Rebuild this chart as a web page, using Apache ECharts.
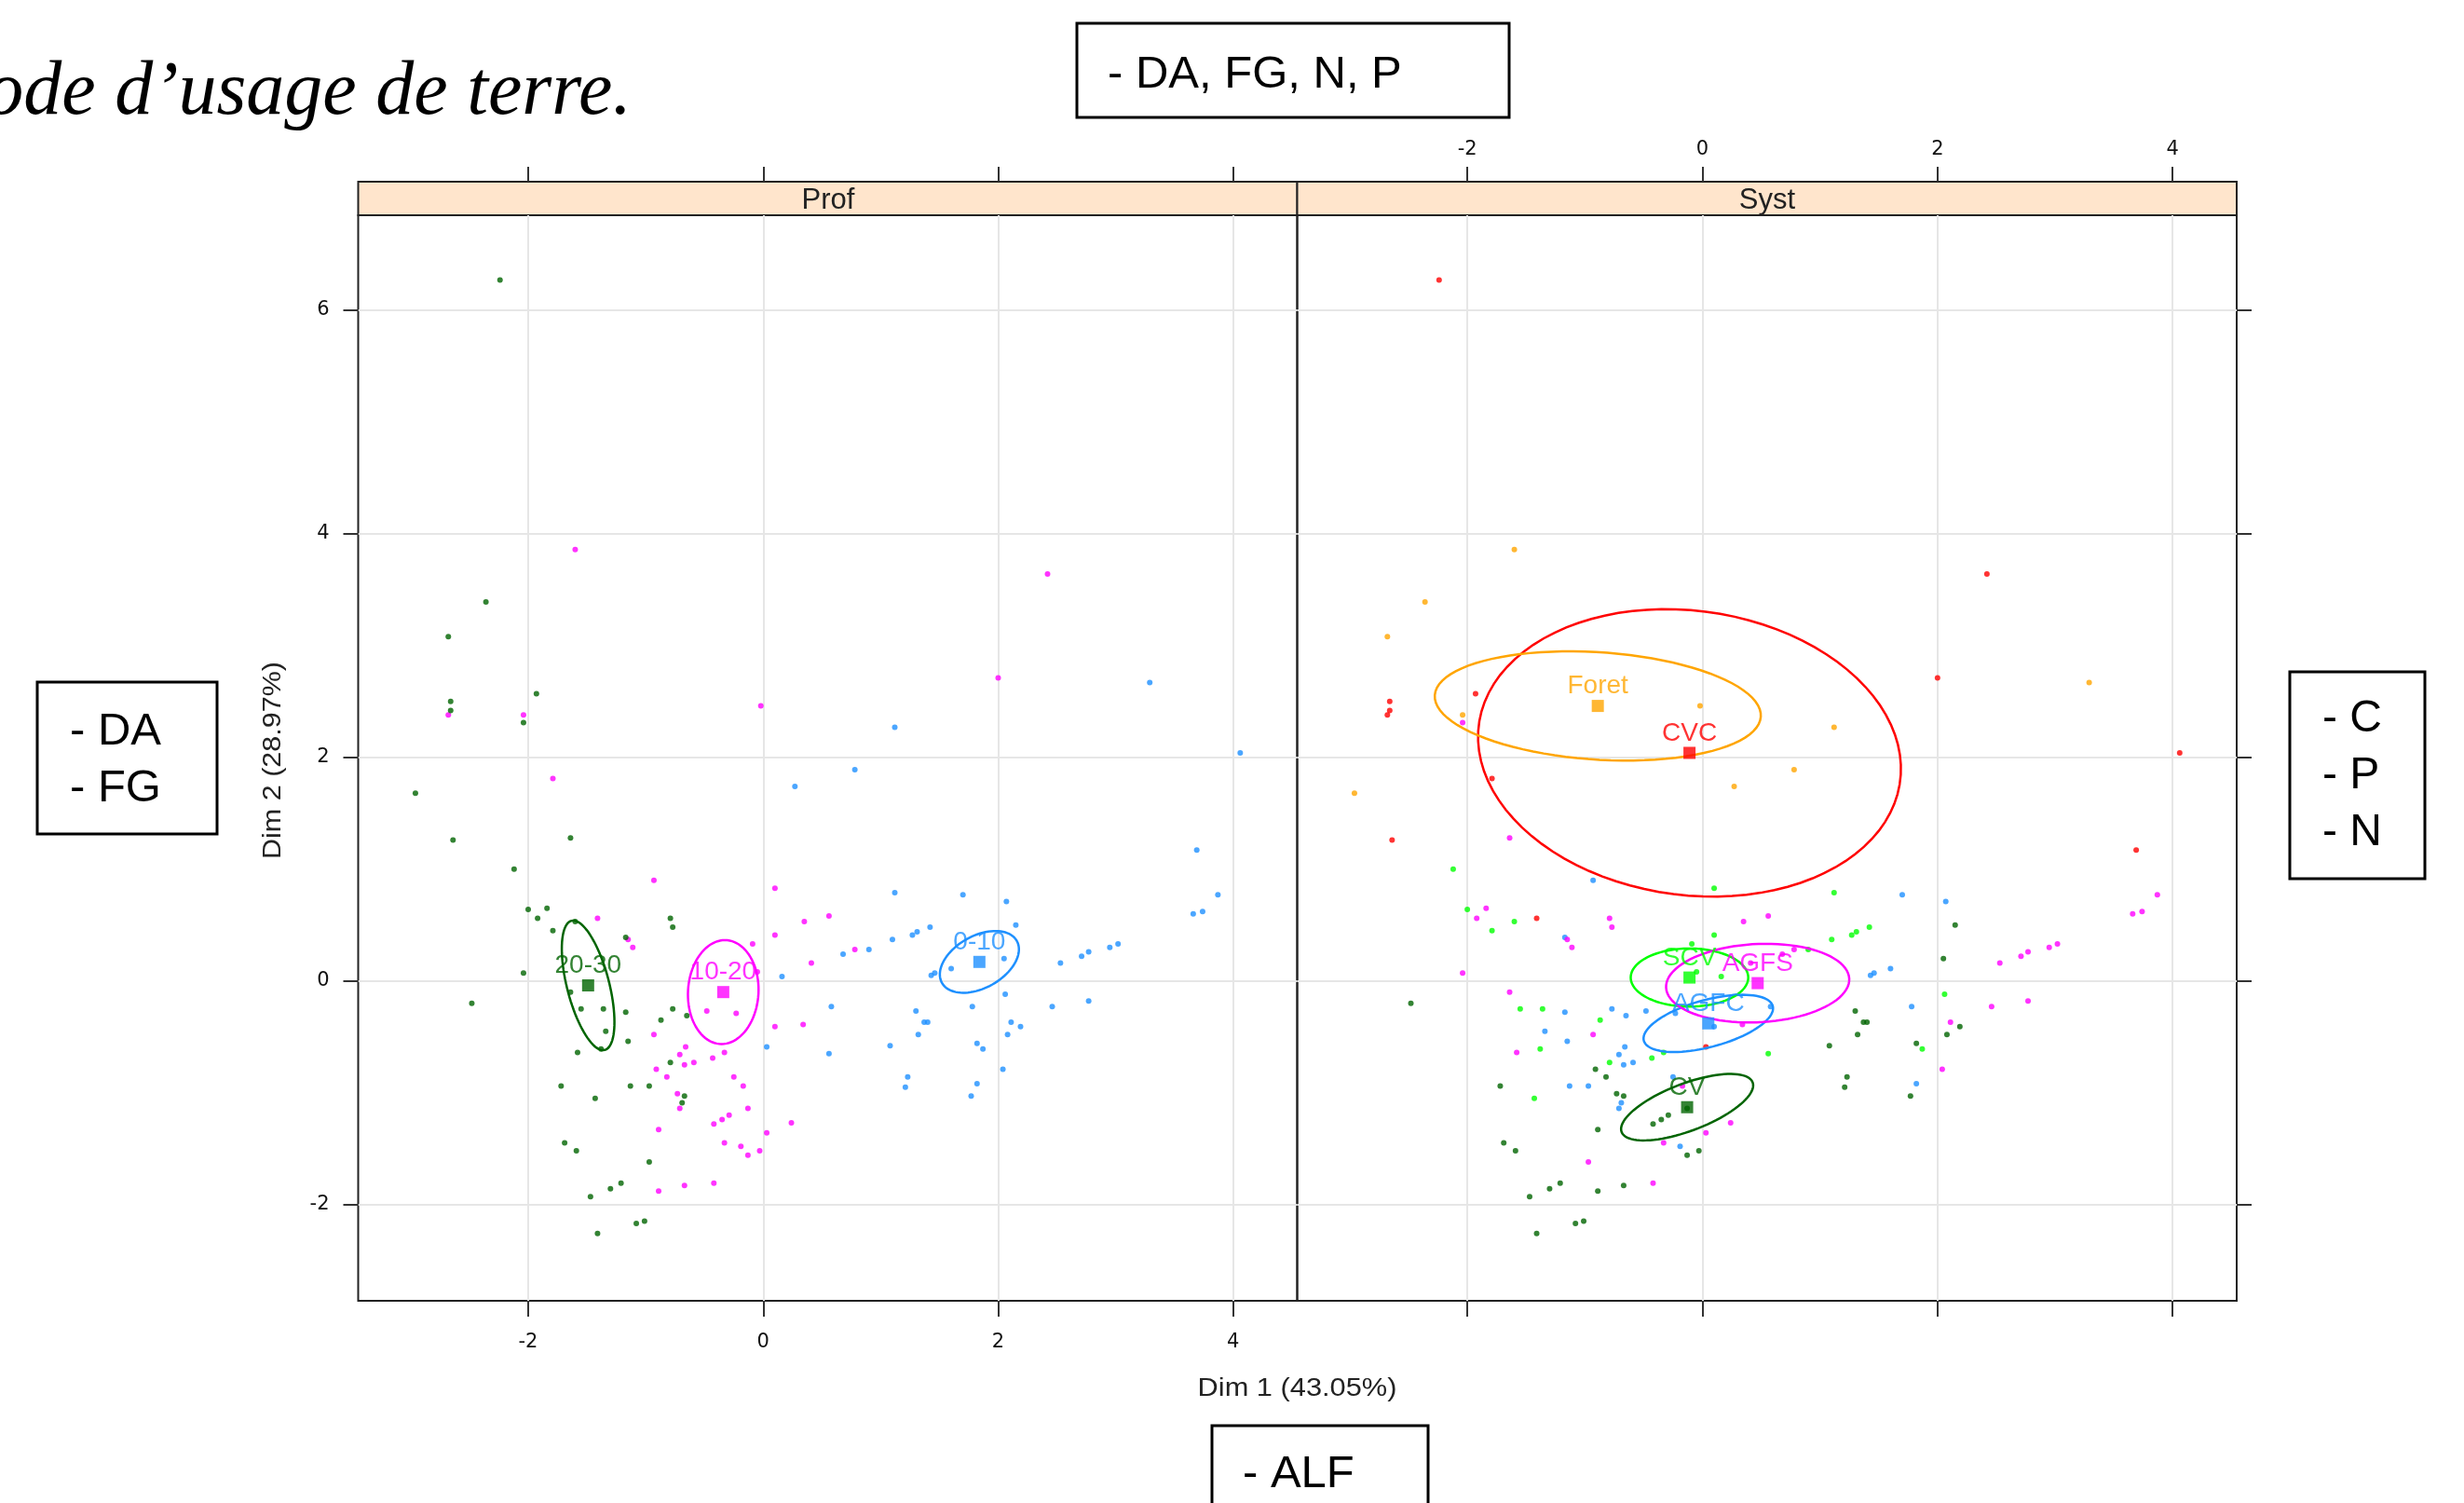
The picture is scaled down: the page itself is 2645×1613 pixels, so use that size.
<!DOCTYPE html>
<html>
<head>
<meta charset="utf-8">
<script src="https://cdn.jsdelivr.net/npm/echarts@6/dist/echarts.min.js"></script>
<style>
  html, body { margin: 0; padding: 0; background: #fff; }
  #chart { width: 2645px; height: 1613px; }
</style>
</head>
<body>
<div id="chart"></div>
<script>
const profLevels = ['0-10', '10-20', '20-30'];
const systLevels = ['CV', 'AGFC', 'SCV', 'AGFS', 'CVC', 'Foret'];
const xTicks = [-2, 0, 2, 4];
const yTicks = [-2, 0, 2, 4, 6];

// individuals, one list per depth : [Dim 1, Dim 2, systeme]
const prof0_10 = [
  [3.29, 2.67, 'Foret'], [1.12, 2.27, 'Foret'], [4.06, 2.04, 'CVC'], [0.78, 1.89, 'Foret'],
  [0.27, 1.74, 'Foret'], [3.69, 1.17, 'CVC'], [1.12, 0.79, 'SCV'], [1.70, 0.77, 'AGFC'],
  [2.07, 0.71, 'AGFC'], [3.87, 0.77, 'AGFS'], [3.66, 0.60, 'AGFS'], [3.74, 0.62, 'AGFS'],
  [2.15, 0.50, 'CV'], [1.42, 0.48, 'SCV'], [1.31, 0.44, 'SCV'], [1.27, 0.41, 'SCV'],
  [1.10, 0.37, 'SCV'], [0.90, 0.28, 'SCV'], [0.68, 0.24, 'AGFS'], [1.60, 0.11, 'AGFC'],
  [1.43, 0.05, 'AGFC'], [1.46, 0.07, 'AGFC'], [2.05, 0.20, 'CV'], [2.53, 0.16, 'AGFS'],
  [2.71, 0.22, 'AGFS'], [2.77, 0.26, 'AGFS'], [2.95, 0.30, 'AGFS'], [3.02, 0.33, 'AGFS'],
  [0.16, 0.04, 'SCV'], [2.06, -0.12, 'SCV'], [0.58, -0.23, 'AGFC'], [1.30, -0.27, 'CV'],
  [1.78, -0.23, 'AGFC'], [2.46, -0.23, 'AGFS'], [2.77, -0.18, 'AGFS'], [1.37, -0.37, 'CV'],
  [1.40, -0.37, 'CV'], [2.11, -0.37, 'AGFS'], [2.19, -0.41, 'CV'], [1.32, -0.48, 'CV'],
  [2.08, -0.48, 'CV'], [0.03, -0.59, 'CVC'], [0.56, -0.65, 'SCV'], [1.08, -0.58, 'CV'],
  [1.82, -0.56, 'CV'], [1.87, -0.61, 'SCV'], [2.04, -0.79, 'AGFS'], [1.23, -0.86, 'CV'],
  [1.21, -0.95, 'CV'], [1.82, -0.92, 'AGFC'], [1.77, -1.03, 'CV']
];
const prof10_20 = [
  [-1.60, 3.86, 'Foret'], [2.42, 3.64, 'CVC'], [-2.68, 2.38, 'CVC'], [-2.04, 2.38, 'Foret'],
  [-0.02, 2.46, 'Foret'], [2.00, 2.71, 'CVC'], [-1.79, 1.81, 'CVC'], [-0.93, 0.90, 'AGFC'],
  [0.10, 0.83, 'SCV'], [-1.41, 0.56, 'CVC'], [0.35, 0.53, 'AGFS'], [0.56, 0.58, 'AGFS'],
  [0.10, 0.41, 'SCV'], [-1.15, 0.37, 'AGFS'], [-1.11, 0.30, 'AGFS'], [-0.09, 0.33, 'SCV'],
  [0.78, 0.28, 'AGFS'], [0.41, 0.16, 'AGFS'], [-0.05, 0.08, 'SCV'], [-0.48, -0.27, 'AGFC'],
  [-0.23, -0.29, 'AGFC'], [0.10, -0.41, 'AGFC'], [0.34, -0.39, 'AGFS'], [-0.93, -0.48, 'AGFS'],
  [-0.66, -0.59, 'AGFC'], [-0.71, -0.66, 'AGFC'], [-0.67, -0.75, 'AGFC'], [-0.59, -0.73, 'AGFC'],
  [-0.43, -0.69, 'SCV'], [-0.33, -0.64, 'SCV'], [-0.91, -0.79, 'CV'], [-0.82, -0.86, 'CV'],
  [-0.25, -0.86, 'AGFC'], [-0.17, -0.94, 'AGFS'], [-0.73, -1.01, 'CV'], [-0.71, -1.14, 'AGFC'],
  [-0.13, -1.14, 'CV'], [-0.42, -1.28, 'CV'], [-0.35, -1.24, 'CV'], [-0.29, -1.20, 'CV'],
  [0.24, -1.27, 'AGFS'], [-0.89, -1.33, 'CV'], [0.03, -1.36, 'AGFS'], [-0.33, -1.45, 'AGFS'],
  [-0.19, -1.48, 'AGFC'], [-0.03, -1.52, 'CV'], [-0.13, -1.56, 'CV'], [-0.89, -1.88, 'CV'],
  [-0.67, -1.83, 'CV'], [-0.42, -1.81, 'AGFS']
];
const prof20_30 = [
  [-2.24, 6.27, 'CVC'], [-2.36, 3.39, 'Foret'], [-2.68, 3.08, 'Foret'], [-2.66, 2.50, 'CVC'],
  [-2.66, 2.42, 'CVC'], [-1.93, 2.57, 'CVC'], [-2.04, 2.31, 'AGFS'], [-2.96, 1.68, 'Foret'],
  [-2.64, 1.26, 'CVC'], [-1.64, 1.28, 'AGFS'], [-2.12, 1.00, 'SCV'], [-2.00, 0.64, 'SCV'],
  [-1.84, 0.65, 'AGFS'], [-1.92, 0.56, 'AGFS'], [-1.79, 0.45, 'SCV'], [-1.60, 0.53, 'SCV'],
  [-1.17, 0.39, 'AGFC'], [-0.79, 0.56, 'AGFS'], [-0.77, 0.48, 'AGFS'], [-2.04, 0.07, 'AGFS'],
  [-2.48, -0.20, 'CV'], [-1.64, -0.10, 'AGFS'], [-1.55, -0.25, 'SCV'], [-1.36, -0.25, 'SCV'],
  [-1.17, -0.28, 'AGFC'], [-0.77, -0.25, 'AGFC'], [-0.87, -0.35, 'SCV'], [-0.65, -0.31, 'AGFC'],
  [-1.34, -0.45, 'AGFC'], [-1.15, -0.54, 'AGFC'], [-1.38, -0.61, 'SCV'], [-1.58, -0.64, 'AGFS'],
  [-0.79, -0.73, 'SCV'], [-1.72, -0.94, 'CV'], [-1.13, -0.94, 'AGFC'], [-0.97, -0.94, 'AGFC'],
  [-1.43, -1.05, 'SCV'], [-0.67, -1.03, 'CV'], [-0.69, -1.09, 'AGFC'], [-1.69, -1.45, 'CV'],
  [-1.59, -1.52, 'CV'], [-0.97, -1.62, 'AGFS'], [-1.30, -1.86, 'CV'], [-1.21, -1.81, 'CV'],
  [-1.47, -1.93, 'CV'], [-1.08, -2.17, 'CV'], [-1.01, -2.15, 'CV'], [-1.41, -2.26, 'CV']
];

// barycentres of each category
const profCentres = [[1.84, 0.17], [-0.34, -0.10], [-1.49, -0.04]];
const systCentres = [[-0.13, -1.13], [0.05, -0.38], [-0.11, 0.03], [0.47, -0.02], [-0.11, 2.04], [-0.89, 2.46]];
// confidence ellipses : [half axis 1, half axis 2, rotation (deg)]
const profEllipses = [[0.37, 0.23, 32], [0.30, 0.465, -3], [0.595, 0.18, 103.6]];
const systEllipses = [[0.60, 0.21, 22], [0.57, 0.21, 16], [0.50, 0.26, 0], [0.78, 0.35, 3], [1.81, 1.27, -9], [1.39, 0.48, -4]];

const profColors = ['#1E90FF', '#FF00FF', '#006400'];
const systColors = ['#006400', '#1E90FF', '#00FF00', '#FF00FF', '#FF0000', '#FFA500'];

const X_MIN = -3.447, X_MAX = 4.545, Y_MIN = -2.862, Y_MAX = 6.85;

const chart = echarts.init(document.getElementById('chart'));

function ellipses(xi, yi, centres, axes, colors) {
  return {
    type: 'custom', xAxisIndex: xi, yAxisIndex: yi, silent: true, z: 3,
    data: centres.map((c, i) => [c[0], c[1], axes[i][0], axes[i][1], axes[i][2], i]),
    renderItem: function (params, api) {
      const cx = api.value(0), cy = api.value(1);
      const a = api.value(2), b = api.value(3);
      const r = api.value(4) * Math.PI / 180;
      const pts = [];
      for (let k = 0; k < 90; k++) {
        const t = k / 90 * Math.PI * 2;
        const dx = a * Math.cos(t), dy = b * Math.sin(t);
        pts.push(api.coord([cx + dx * Math.cos(r) - dy * Math.sin(r), cy + dx * Math.sin(r) + dy * Math.cos(r)]));
      }
      return {
        type: 'polygon', shape: { points: pts },
        style: { fill: 'none', stroke: colors[api.value(5)], lineWidth: 2.5 }
      };
    }
  };
}

function centres(xi, yi, levels, pos, colors) {
  return {
    type: 'scatter', xAxisIndex: xi, yAxisIndex: yi, symbol: 'rect', symbolSize: 13, z: 5, silent: true,
    data: levels.map((lv, i) => ({
      name: lv, value: pos[i],
      itemStyle: { color: colors[i] },
      label: { color: colors[i] }
    })),
    label: {
      show: true, formatter: '{b}', position: 'inside', offset: [0, -21],
      fontFamily: 'Liberation Sans', fontSize: 28, textBorderWidth: 0
    }
  };
}

const allPoints = [].concat(prof0_10, prof10_20, prof20_30);
const profPoints = [prof0_10, prof10_20, prof20_30];
const series = [];
profLevels.forEach((lv, i) => {
  series.push({
    name: lv, type: 'scatter', xAxisIndex: 0, yAxisIndex: 0, symbolSize: 6, z: 2, silent: true,
    itemStyle: { color: profColors[i] },
    data: profPoints[i].map(p => [p[0], p[1]])
  });
});
systLevels.forEach((lv, i) => {
  series.push({
    name: lv, type: 'scatter', xAxisIndex: 2, yAxisIndex: 1, symbolSize: 6, z: 2, silent: true,
    itemStyle: { color: systColors[i] },
    data: allPoints.filter(p => p[2] === lv).map(p => [p[0], p[1]])
  });
});
series.push(ellipses(0, 0, profCentres, profEllipses, profColors));
series.push(ellipses(2, 1, systCentres, systEllipses, systColors));
series.push(centres(0, 0, profLevels, profCentres, profColors));
series.push(centres(2, 1, systLevels, systCentres, systColors));

const tick = (vals, len) => ({ show: true, inside: false, length: len || 16, customValues: vals, lineStyle: { color: '#333', width: 2 } });
const label = (vals, margin) => ({ show: true, customValues: vals, margin: margin, fontFamily: 'DejaVu Sans', fontSize: 21, color: '#111' });
const gridLine = { show: true, lineStyle: { color: '#e6e6e6', width: 2 } };
const noLabel = { show: false };
const noLine = { show: false, onZero: false };

const option = {
  animation: false,
  backgroundColor: '#fff',
  grid: [
    { left: 384.5, top: 231, width: 1008, height: 1165, show: true, borderColor: '#222', borderWidth: 2 },
    { left: 1392.5, top: 231, width: 1008.5, height: 1165, show: true, borderColor: '#222', borderWidth: 2 }
  ],
  xAxis: [
    { type: 'value', gridIndex: 0, position: 'bottom', min: X_MIN, max: X_MAX, axisLine: noLine,
      axisTick: tick(xTicks, 17), axisLabel: label(xTicks, 34), splitLine: gridLine },
    { type: 'value', gridIndex: 0, position: 'top', offset: 36, min: X_MIN, max: X_MAX, axisLine: noLine,
      axisTick: tick(xTicks), axisLabel: noLabel, splitLine: { show: false } },
    { type: 'value', gridIndex: 1, position: 'bottom', min: X_MIN, max: X_MAX, axisLine: noLine,
      axisTick: tick(xTicks, 17), axisLabel: noLabel, splitLine: gridLine },
    { type: 'value', gridIndex: 1, position: 'top', offset: 36, min: X_MIN, max: X_MAX, axisLine: noLine,
      axisTick: tick(xTicks), axisLabel: label(xTicks, 24), splitLine: { show: false } }
  ],
  yAxis: [
    { type: 'value', gridIndex: 0, position: 'left', min: Y_MIN, max: Y_MAX, axisLine: noLine,
      axisTick: tick(yTicks), axisLabel: label(yTicks, 31), splitLine: gridLine },
    { type: 'value', gridIndex: 1, position: 'right', min: Y_MIN, max: Y_MAX, axisLine: noLine,
      axisTick: tick(yTicks), axisLabel: noLabel, splitLine: gridLine }
  ],
  graphic: [
    // strips
    { type: 'rect', shape: { x: 384.5, y: 195, width: 1008, height: 36 }, style: { fill: '#FFE5CC', stroke: '#222', lineWidth: 2 } },
    { type: 'rect', shape: { x: 1392.5, y: 195, width: 1008.5, height: 36 }, style: { fill: '#FFE5CC', stroke: '#222', lineWidth: 2 } },
    { type: 'text', x: 889, y: 215, style: { text: 'Prof', font: '31px "Liberation Sans"', fill: '#222', textAlign: 'center', align: 'center', textVerticalAlign: 'middle', verticalAlign: 'middle' } },
    { type: 'text', x: 1897, y: 215, style: { text: 'Syst', font: '31px "Liberation Sans"', fill: '#222', textAlign: 'center', align: 'center', textVerticalAlign: 'middle', verticalAlign: 'middle' } },
    // axis titles
    { type: 'text', x: 1392.5, y: 1491, scaleX: 1.14, style: { text: 'Dim 1 (43.05%)', font: '27px "Liberation Sans"', fill: '#222', textAlign: 'center', align: 'center', textVerticalAlign: 'middle', verticalAlign: 'middle' } },
    { type: 'text', x: 294, y: 816, rotation: Math.PI / 2, scaleX: 1.13, style: { text: 'Dim 2 (28.97%)', font: '27px "Liberation Sans"', fill: '#222', textAlign: 'center', align: 'center', textVerticalAlign: 'middle', verticalAlign: 'middle' } },
    // caption cut by the page edge
    { type: 'text', x: 678, y: 100, style: { text: 'ode d\u2019usage de terre.', font: 'italic 82px "Liberation Serif"', fill: '#000', textAlign: 'right', align: 'right', textVerticalAlign: 'middle', verticalAlign: 'middle' } },
    // annotation boxes
    { type: 'rect', shape: { x: 1156, y: 25, width: 464, height: 101 }, style: { fill: '#fff', stroke: '#000', lineWidth: 3 } },
    { type: 'text', x: 1189, y: 80, style: { text: '- DA, FG, N, P', font: '49px "Liberation Sans"', fill: '#000', textAlign: 'left', align: 'left', textVerticalAlign: 'middle', verticalAlign: 'middle' } },
    { type: 'rect', shape: { x: 40, y: 732, width: 193, height: 163 }, style: { fill: '#fff', stroke: '#000', lineWidth: 3 } },
    { type: 'text', x: 75, y: 785, style: { text: '- DA', font: '49px "Liberation Sans"', fill: '#000', textAlign: 'left', align: 'left', textVerticalAlign: 'middle', verticalAlign: 'middle' } },
    { type: 'text', x: 75, y: 846, style: { text: '- FG', font: '49px "Liberation Sans"', fill: '#000', textAlign: 'left', align: 'left', textVerticalAlign: 'middle', verticalAlign: 'middle' } },
    { type: 'rect', shape: { x: 2458, y: 721, width: 145, height: 222 }, style: { fill: '#fff', stroke: '#000', lineWidth: 3 } },
    { type: 'text', x: 2493, y: 772, style: { text: '- C', font: '48px "Liberation Sans"', fill: '#000', textAlign: 'left', align: 'left', textVerticalAlign: 'middle', verticalAlign: 'middle' } },
    { type: 'text', x: 2493, y: 833, style: { text: '- P', font: '48px "Liberation Sans"', fill: '#000', textAlign: 'left', align: 'left', textVerticalAlign: 'middle', verticalAlign: 'middle' } },
    { type: 'text', x: 2493, y: 894, style: { text: '- N', font: '48px "Liberation Sans"', fill: '#000', textAlign: 'left', align: 'left', textVerticalAlign: 'middle', verticalAlign: 'middle' } },
    { type: 'rect', shape: { x: 1301, y: 1530, width: 232, height: 120 }, style: { fill: '#fff', stroke: '#000', lineWidth: 3 } },
    { type: 'text', x: 1334, y: 1582, style: { text: '- ALF', font: '49px "Liberation Sans"', fill: '#000', textAlign: 'left', align: 'left', textVerticalAlign: 'middle', verticalAlign: 'middle' } }
  ],
  series: series
};
chart.setOption(option);
</script>
</body>
</html>
